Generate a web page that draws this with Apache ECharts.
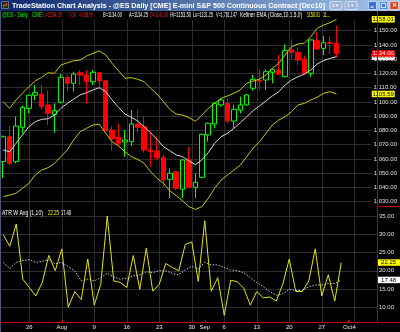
<!DOCTYPE html>
<html>
<head>
<meta charset="utf-8">
<script src="https://cdn.jsdelivr.net/npm/echarts@6/dist/echarts.min.js"></script>
<style>
html,body{margin:0;padding:0;background:#000;}
#chart{width:400px;height:332px;}
</style>
</head>
<body>
<div id="chart"></div>
<script>
// ---- categories (trading days) ----
const dates = ['7/20','7/21','7/22','7/23','7/26','7/27','7/28','7/29','7/30','8/2','8/3','8/4','8/5','8/6','8/9','8/10','8/11','8/12','8/13','8/16','8/17','8/18','8/19','8/20','8/23','8/24','8/25','8/26','8/27','8/30','8/31','9/1','9/2','9/3','9/6','9/7','9/8','9/9','9/10','9/13','9/14','9/15','9/16','9/17','9/20','9/21','9/22','9/23','9/24','9/27','9/28','9/29','9/30','10/1','10/4','10/5','10/6','10/7'];

// ---- OHLC ----
const open  = [1058.1,1075.6,1058.1,1082.2,1095.5,1104.7,1105.6,1097.9,1091.3,1099.8,1117.3,1113.1,1120.5,1118.9,1114.2,1120.5,1114.9,1080.3,1075.2,1071.9,1072.1,1084.5,1082.6,1066.3,1065.6,1061.1,1045.7,1051.0,1038.7,1059.3,1040.1,1047.1,1076.8,1084.5,1097.9,1099.0,1086.6,1094.3,1097.9,1109.6,1115.2,1115.4,1120.8,1122.4,1117.7,1136.5,1134.8,1129.9,1120.1,1143.0,1137.6,1141.6,1141.00];
const close = [1075.6,1057.0,1083.1,1096.2,1104.7,1106.5,1096.7,1092.0,1093.9,1117.3,1113.1,1119.6,1118.9,1114.2,1120.8,1114.7,1079.8,1074.0,1071.0,1073.3,1084.5,1082.2,1066.3,1065.1,1060.9,1045.2,1050.0,1039.4,1059.3,1040.1,1043.6,1077.3,1085.0,1099.0,1101.4,1086.6,1094.8,1097.9,1104.9,1115.9,1114.5,1121.2,1122.9,1119.4,1136.0,1134.8,1129.4,1120.1,1143.5,1137.2,1141.6,1141.1,1134.00];
const low   = [1046.6,1055.7,1057.0,1078.0,1092.0,1101.4,1094.8,1083.8,1078.4,1099.0,1107.9,1107.2,1111.9,1099.0,1111.9,1109.6,1079.1,1065.8,1069.1,1061.6,1069.1,1078.0,1064.4,1054.6,1059.3,1040.5,1032.4,1038.2,1032.4,1039.4,1032.4,1046.4,1072.1,1081.5,1096.7,1085.0,1081.5,1092.0,1097.4,1107.9,1108.4,1108.4,1113.1,1119.0,1117.3,1130.6,1125.9,1118.9,1117.7,1136.5,1132.9,1133.6,1131.25];
const high  = [1076.5,1083.1,1089.6,1097.2,1105.2,1111.9,1111.9,1108.4,1099.0,1119.6,1118.9,1121.2,1122.4,1122.4,1122.4,1121.2,1115.4,1083.1,1084.5,1080.3,1094.4,1094.4,1089.6,1079.1,1075.6,1062.8,1053.4,1051.5,1059.7,1068.6,1050.0,1077.8,1085.5,1099.5,1102.6,1102.6,1097.9,1103.7,1105.6,1118.9,1122.9,1122.9,1123.6,1132.9,1140.4,1144.0,1138.3,1132.6,1144.0,1149.3,1146.3,1146.5,1153.50];

// ---- Keltner channel (EMA close,10,1.5) ----
const kcUpper = [1100.2,1095.5,1101.4,1106.1,1110.7,1114.7,1117.3,1120.5,1120.1,1125.9,1127.5,1128.9,1129.4,1132.2,1134.1,1135.8,1132.9,1127.1,1121.9,1116.6,1117.0,1115.9,1114.2,1109.6,1105.6,1100.2,1094.8,1091.5,1090.8,1089.0,1086.4,1090.8,1095.5,1099.0,1102.6,1104.2,1106.1,1108.4,1113.1,1114.7,1115.9,1118.9,1123.6,1127.1,1132.9,1138.8,1140.7,1141.2,1145.8,1151.7,1154.0,1155.6,1158.01];
const kcMid   = [1066.3,1065.0,1071.0,1076.8,1082.6,1086.1,1087.8,1088.2,1090.8,1095.5,1099.0,1102.0,1104.9,1106.5,1108.4,1110.0,1107.2,1101.4,1096.2,1091.5,1089.2,1086.6,1082.6,1078.4,1073.8,1068.6,1065.8,1062.8,1061.6,1058.6,1056.0,1059.3,1064.4,1071.0,1075.6,1078.0,1081.5,1085.4,1089.6,1093.9,1097.2,1100.7,1104.2,1107.2,1111.9,1115.4,1117.7,1119.6,1122.4,1126.6,1129.0,1130.6,1131.80];
const kcLower = [1033.5,1034.7,1035.9,1039.4,1042.9,1048.7,1052.2,1053.9,1056.9,1061.6,1066.3,1073.3,1079.1,1081.5,1083.8,1084.3,1078.0,1072.1,1069.1,1065.1,1061.6,1059.7,1056.9,1051.0,1046.4,1042.9,1037.7,1034.2,1030.6,1026.5,1024.6,1026.5,1032.4,1039.4,1045.2,1048.7,1052.2,1055.7,1061.6,1067.5,1072.1,1078.0,1083.8,1087.3,1089.6,1093.2,1097.9,1099.0,1101.4,1103.3,1106.1,1107.2,1105.59];

// ---- ATR W Avg (1,10) ----
const atr    = [29.9,26.7,32.8,17.7,15.4,13.1,16.8,24.2,20.0,26.0,10.0,14.3,12.1,23.2,10.6,16.3,35.0,17.2,16.8,15.4,24.2,14.9,26.2,14.4,16.3,22.0,20.9,20.0,27.2,27.9,17.1,33.7,14.4,18.1,7.8,17.4,17.0,15.2,10.6,14.3,12.6,12.8,11.7,16.3,23.2,14.3,14.3,17.2,26.0,13.1,18.9,11.7,22.25];
const atrAvg = [22.3,20.6,22.3,22.8,23.0,22.3,22.6,23.0,21.9,22.3,21.1,20.0,17.2,17.7,17.2,18.1,19.3,18.3,17.7,17.9,18.6,18.9,19.7,19.5,20.0,20.0,19.3,18.9,20.2,21.2,20.5,22.3,21.6,21.6,20.9,20.2,20.0,19.5,18.1,16.8,15.6,14.3,13.3,13.7,14.9,14.6,14.6,15.6,16.1,16.1,16.5,16.5,17.48];

// ---- axis tick labels ----
const tickDates  = ['7/26','8/2','8/9','8/16','8/23','8/30','9/1','9/6','9/13','9/20','9/27','10/1','10/4'];
const tickText   = ['26','Aug','9','16','23','30','Sep','6','13','20','27','Oct','4'];
const weekDates  = ['7/26','8/2','8/9','8/16','8/23','8/30','9/6','9/13','9/20','9/27','10/4'];
const monthDates = ['8/2','9/1','10/1'];

const FONT = '"Liberation Sans","DejaVu Sans",sans-serif';
const GRIDC = '#2e2e2e';
const last = close.length - 1;
const lastCat = dates[dates.length - 1];
const fmt2 = v => v.toFixed(2);
const fmtPrice = v => v.toLocaleString('en-US', {minimumFractionDigits: 2, maximumFractionDigits: 2});

// measure text to fit a target width (keeps text as real text, just condensed)
const mctx = document.createElement('canvas').getContext('2d');
function fitText(text, x, y, w, color, size, weight, z) {
  mctx.font = (weight || 'normal') + ' ' + size + 'px ' + FONT;
  const nat = mctx.measureText(text).width || 1;
  return {type: 'text', z: z || 100, x: x, y: y, scaleX: w / nat, originX: 0, originY: 0,
    style: {text: text, fill: color, fontSize: size, fontWeight: weight || 'normal', fontFamily: FONT, verticalAlign: 'middle'}};
}

function boxPoint(val, bg, fg, z) {
  return {
    z: z, silent: true, animation: false,
    data: [{
      coord: [lastCat, val], value: val,
      symbol: 'rect', symbolSize: [23, 6.5], symbolOffset: [14.8, 0],
      itemStyle: {color: bg},
      label: {show: true, position: 'inside', color: fg, fontSize: 6, fontFamily: FONT,
               formatter: p => fmt2(p.value)}
    }]
  };
}

const chart = echarts.init(document.getElementById('chart'), null, {renderer: 'canvas'});
const candle = open.map((o, i) => [o, close[i], low[i], high[i]]);

function statusItems() {
  const chg = close[last] - open[last];
  const segs = [
    [2, 26, '@ES - Daily', '#00ff00'], [32, 10, 'CME', '#00ff00'],
    [43, 19, 'L=' + fmt2(close[last]), '#ff2020'], [67, 9, fmt2(chg), '#ff2020'],
    [79, 14, (chg / open[last] * 100).toFixed(2) + '%', '#ff2020'],
    [103, 19, 'B=' + fmt2(close[last]), '#ffffff'], [129, 19, 'A=1134.25', '#ffffff'],
    [150, 18, 'O=' + fmt2(open[last]), '#ff2020'], [170, 21, 'Hi=' + fmt2(high[last]), '#ffffff'],
    [193, 20, 'Lo=' + fmt2(low[last]), '#ffffff'], [216, 21, 'V=1,781,147', '#ffffff'],
    [240, 62, 'Keltner EMA (Close,10,1.5,0)', '#ffffff'],
    [307, 13, fmt2(kcUpper[last]), '#ffff00'], [323, 7, '11...', '#ffff00']
  ];
  return segs.map(s => fitText(s[2], s[0], 15.5, s[1], s[3], 6.5));
}

const graphics = [
  {type: 'rect', z: 100, shape: {x: 0, y: 0, width: 400, height: 11},
   style: {fill: new echarts.graphic.LinearGradient(0, 0, 1, 0, [{offset: 0, color: '#0a246a'}, {offset: 1, color: '#a6caf0'}])}},
  {type: 'rect', z: 101, shape: {x: 1.5, y: 1.5, width: 7, height: 7}, style: {fill: '#202020', stroke: '#c0c0c0', lineWidth: 0.5}},
  {type: 'rect', z: 102, shape: {x: 3, y: 4, width: 1.5, height: 3.5}, style: {fill: '#00c000'}},
  {type: 'rect', z: 102, shape: {x: 5.5, y: 3, width: 1.5, height: 3.5}, style: {fill: '#ff3030'}},
  fitText('TradeStation Chart Analysis - @ES Daily [CME] E-mini S&P 500 Continuous Contract [Dec10]', 12, 5.8, 313, '#ffffff', 7, 'bold', 101),
  {type: 'rect', z: 101, shape: {x: 330, y: 1.5, width: 12, height: 8, r: 1}, style: {fill: '#9fb4d8', stroke: '#ffffff', lineWidth: 0.6}},
  {type: 'text', z: 102, x: 332, y: 5.8, style: {text: '\u2261 \u25BE', fill: '#ffffff', fontSize: 5, verticalAlign: 'middle'}},
  {type: 'rect', z: 101, shape: {x: 345, y: 1.5, width: 12, height: 8, r: 1}, style: {fill: '#9fb4d8', stroke: '#ffffff', lineWidth: 0.6}},
  {type: 'text', z: 102, x: 347, y: 5.8, style: {text: '1 \u25BE', fill: '#ffffff', fontSize: 5, verticalAlign: 'middle'}},
  {type: 'rect', z: 101, shape: {x: 368.5, y: 1.5, width: 8, height: 8, r: 1}, style: {fill: '#3a72e0', stroke: '#ffffff', lineWidth: 0.6}},
  {type: 'rect', z: 102, shape: {x: 370.5, y: 6.5, width: 3, height: 1.2}, style: {fill: '#ffffff'}},
  {type: 'rect', z: 101, shape: {x: 379.5, y: 1.5, width: 8, height: 8, r: 1}, style: {fill: '#3a72e0', stroke: '#ffffff', lineWidth: 0.6}},
  {type: 'rect', z: 102, shape: {x: 381.3, y: 3.3, width: 4.4, height: 4.4}, style: {fill: 'none', stroke: '#ffffff', lineWidth: 1}},
  {type: 'rect', z: 101, shape: {x: 390, y: 1.5, width: 8.5, height: 8, r: 1}, style: {fill: '#e2401c', stroke: '#ffffff', lineWidth: 0.6}},
  {type: 'text', z: 102, x: 394.2, y: 5.8, style: {text: '\u2715', fill: '#ffffff', fontSize: 6, fontWeight: 'bold', align: 'center', verticalAlign: 'middle'}},
  // frame lines
  {type: 'line', z: 90, shape: {x1: 0.5, y1: 11, x2: 0.5, y2: 332}, style: {stroke: '#4a5680', lineWidth: 1}},
  {type: 'line', z: 90, shape: {x1: 377.5, y1: 11, x2: 377.5, y2: 322}, style: {stroke: '#c00000', lineWidth: 1}},
  {type: 'line', z: 90, shape: {x1: 0, y1: 322.5, x2: 400, y2: 322.5}, style: {stroke: '#c00000', lineWidth: 1}},
  {type: 'line', z: 90, shape: {x1: 377, y1: 206.5, x2: 400, y2: 206.5}, style: {stroke: '#c00000', lineWidth: 1}},
  // ATR title
  fitText('ATR W Avg (1,10)', 2, 213, 41, '#ffffff', 6.5),
  fitText(fmt2(atr[last]), 48, 213, 11, '#ffff00', 6.5),
  fitText(fmt2(atrAvg[last]), 61, 213, 10, '#ffffff', 6.5)
].concat(statusItems());

const hiddenX = (gi) => ({type: 'category', gridIndex: gi, data: dates, boundaryGap: true, show: false});

const option = {
  backgroundColor: '#000000',
  animation: false,
  graphic: {elements: graphics},
  grid: [
    {left: 0, right: 23, top: 16.45, height: 185.25},
    {left: 0, right: 23, top: 197.75, height: 127.75},
    {left: 0, right: 23, top: 20, bottom: 10}
  ],
  xAxis: [
    hiddenX(0), hiddenX(1),
    {type: 'category', gridIndex: 2, data: dates, boundaryGap: true,
     axisLine: {show: false},
     axisTick: {show: true, inside: true, length: 2, alignWithLabel: true,
                interval: (i, v) => monthDates.indexOf(v) >= 0, lineStyle: {color: '#ff0000'}},
     axisLabel: {show: true, interval: (i, v) => tickDates.indexOf(v) >= 0,
                 formatter: v => tickText[tickDates.indexOf(v)], color: '#e8e8e8', fontSize: 6, fontFamily: FONT, margin: 2},
     splitLine: {show: true, alignWithLabel: true, interval: (i, v) => weekDates.indexOf(v) >= 0,
                 lineStyle: {color: GRIDC, width: 1}}}
  ],
  yAxis: [
    {type: 'value', gridIndex: 0, position: 'right', min: 1030, max: 1160, interval: 10,
     axisLine: {show: false}, axisTick: {show: false},
     axisLabel: {color: '#e0e0e0', fontSize: 6, fontFamily: FONT, margin: 2,
                 formatter: v => (v >= 1030 && v <= 1150) ? fmtPrice(v) : ''},
     splitLine: {show: true, showMinLine: true, showMaxLine: false, lineStyle: {color: GRIDC}}},
    {type: 'value', gridIndex: 1, position: 'right', min: 5, max: 40, interval: 5,
     axisLine: {show: false}, axisTick: {show: false},
     axisLabel: {color: '#e0e0e0', fontSize: 6, fontFamily: FONT, margin: 2,
                 formatter: v => (v >= 10 && v <= 35) ? fmt2(v) : ''},
     splitLine: {show: true, showMinLine: false, showMaxLine: false, lineStyle: {color: GRIDC}}},
    {type: 'value', gridIndex: 2, min: 0, max: 1, show: false}
  ],
  series: [
    {type: 'line', xAxisIndex: 2, yAxisIndex: 2, data: dates.map(() => null), silent: true, symbol: 'none'},
    {type: 'line', name: 'upper', xAxisIndex: 0, yAxisIndex: 0, data: kcUpper, symbol: 'none', silent: true, clip: false,
     lineStyle: {color: '#c8c800', width: 1}, markPoint: boxPoint(kcUpper[last], '#ffff00', '#000000', 5)},
    {type: 'line', name: 'lower', xAxisIndex: 0, yAxisIndex: 0, data: kcLower, symbol: 'none', silent: true, clip: false,
     lineStyle: {color: '#c8c800', width: 1}, markPoint: boxPoint(kcLower[last], '#ffff00', '#000000', 5)},
    {type: 'line', name: 'mid', xAxisIndex: 0, yAxisIndex: 0, data: kcMid, symbol: 'none', silent: true,
     lineStyle: {color: '#d8d8d8', width: 1}, markPoint: boxPoint(kcMid[last], '#ffffff', '#606060', 5)},
    {type: 'candlestick', xAxisIndex: 0, yAxisIndex: 0, data: candle, barWidth: 5, silent: true, clip: false,
     itemStyle: {color: '#000000', color0: '#ff0000', borderColor: '#00ff00', borderColor0: '#ff0000', borderWidth: 1},
     markPoint: boxPoint(close[last], '#ff0000', '#ffffff', 8)},
    {type: 'line', name: 'atrAvg', xAxisIndex: 1, yAxisIndex: 1, data: atrAvg, symbol: 'none', silent: true,
     lineStyle: {color: '#c8c8c8', width: 1, type: [1.5, 1.5]}, markPoint: boxPoint(atrAvg[last], '#ffffff', '#000000', 5)},
    {type: 'line', name: 'atr', xAxisIndex: 1, yAxisIndex: 1, data: atr, symbol: 'none', silent: true,
     lineStyle: {color: '#e6e600', width: 1}, markPoint: boxPoint(atr[last], '#ffff00', '#000000', 6)}
  ]
};
chart.setOption(option);
</script>
</body>
</html>
